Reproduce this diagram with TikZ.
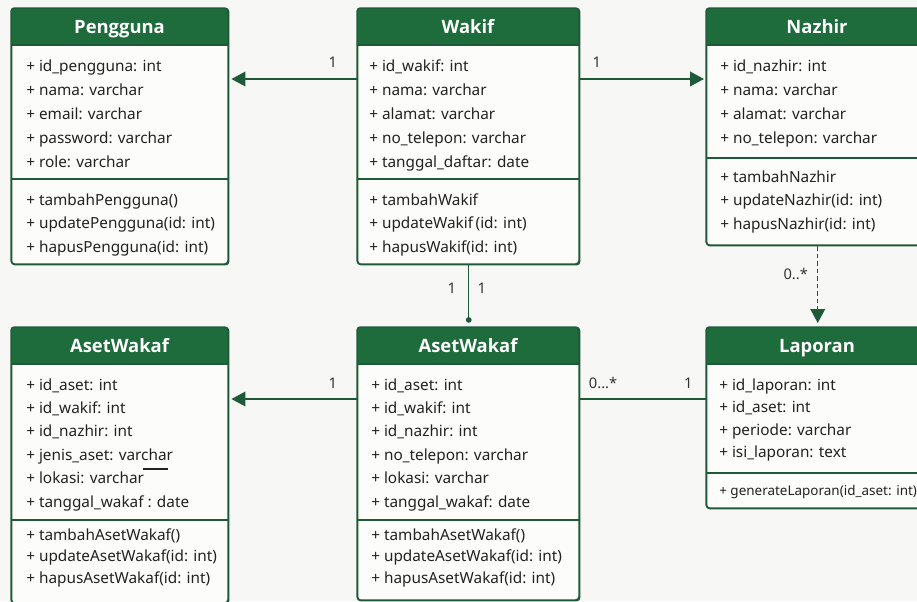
\documentclass[tikz,border=0pt]{standalone}
\usepackage{fontspec}
\setmainfont{Noto Sans}
\newfontfamily\titlefont{Open Sans}
\usetikzlibrary{arrows.meta}
\definecolor{hdr}{HTML}{1E6B3C}
\definecolor{edgec}{HTML}{1F5A38}
\definecolor{bgc}{HTML}{F7F7F5}
\definecolor{boxbg}{HTML}{FCFCFB}
\definecolor{txt}{HTML}{222222}
\definecolor{lbl}{HTML}{333333}
\tikzset{
  classbox/.style={draw=edgec, fill=boxbg, line width=1.1pt, rounded corners=2.5pt, inner sep=0pt, anchor=north west},
  titletext/.style={font=\titlefont\fontsize{13.8pt}{15pt}\selectfont\bfseries, text=white, inner sep=0pt, anchor=base},
  rowtext/.style={font=\fontsize{11.5pt}{13pt}\selectfont, text=txt, anchor=base west, inner sep=0pt},
  multlabel/.style={font=\fontsize{11pt}{12pt}\selectfont, text=lbl, inner sep=0pt},
  assoc/.style={draw=edgec, line width=1.1pt},
  arrowline/.style={assoc, -{Triangle[length=10.5pt,width=11pt]}, shorten >=1.5pt},
  dotline/.style={assoc, -{Circle[length=4.2pt]}, shorten >=3.2pt},
  depline/.style={assoc, dash pattern=on 3.2pt off 2.4pt, -{Triangle[length=10.5pt,width=11pt]}, shorten >=3pt},
}
% name, x, y, w, h, sepy, title
\newcommand\umlbox[7]{%
  \node[classbox, minimum width=#4*0.75pt, minimum height=#5*0.75pt] (#1) at (#2,#3) {};
  \fill[hdr] (#2,#3+37) {[rounded corners=2.5pt] -- (#2,#3) -- (#2+#4,#3)} -- (#2+#4,#3+37) -- cycle;
  \draw[edgec, line width=1.1pt] (#2,#3+37) -- (#2+#4,#3+37);
  \draw[edgec, line width=1.1pt] (#2,#6) -- (#2+#4,#6);
  \draw[edgec, line width=1.1pt, rounded corners=2.5pt] (#2,#3) rectangle (#2+#4,#3+#5);
  \node[titletext] at (#2+#4/2,#3+25) {#7};
}
% x, first baseline, step, list
\newcommand\umllines[4]{%
  \foreach \t [count=\i from 0] in {#4} {\node[rowtext] at (#1,#2+\i*#3) {\t};}
}
\begin{document}
\begin{tikzpicture}[x=0.75pt,y=-0.75pt]
\useasboundingbox (0,0) rectangle (917,601);
\clip (0,0) rectangle (917,601);
\fill[bgc] (0,0) rectangle (917,601);

% Pengguna
\umlbox{peng}{11}{8}{217}{256}{179}{Pengguna}
\umllines{26}{71}{24}{+ id\_pengguna: int, + nama: varchar, + email: varchar, + password: varchar, + role: varchar}
\umllines{26}{205}{23.5}{+ tambahPengguna(), + updatePengguna(id: int), + hapusPengguna(id: int)}

% Wakif
\umlbox{wakif}{357}{8}{222}{256}{179}{Wakif}
\umllines{369}{71}{24}{+ id\_wakif: int, + nama: varchar, + alamat: varchar, + no\_telepon: varchar, + tanggal\_daftar: date}
\umllines{369}{205}{23.5}{+ tambahWakif, + updateWakif\,(id: int), + hapusWakif(id: int)}

% Nazhir
\umlbox{nazhir}{706}{8}{222}{237}{158}{Nazhir}
\umllines{720}{71}{24}{+ id\_nazhir: int, + nama: varchar, + alamat: varchar, + no\_telepon: varchar}
\umllines{720}{182}{23.5}{+ tambahNazhir, + updateNazhir(id: int), + hapusNazhir(id: int)}

% AsetWakaf (left)
\umlbox{asetA}{11}{327}{217}{276}{520}{AsetWakaf}
\umllines{26}{390}{23.4}{+ id\_aset: int, + id\_wakif: int, + id\_nazhir: int, + jenis\_aset: varchar, + lokasi: varchar, + tanggal\_wakaf : date}
\umllines{26}{540}{21.5}{+ tambahAsetWakaf(), + updateAsetWakaf(id: int), + hapusAsetWakaf(id: int)}
\draw[txt, line width=0.8pt] (143,469) -- (168,469);

% AsetWakaf (middle)
\umlbox{asetB}{357}{327}{222}{273}{520}{AsetWakaf}
\umllines{371}{390}{23.4}{+ id\_aset: int, + id\_wakif: int, + id\_nazhir: int, + no\_telepon: varchar, + lokasi: varchar, + tanggal\_wakaf: date}
\umllines{371}{540}{21.5}{+ tambahAsetWakaf(), + updateAsetWakaf(id: int), + hapusAsetWakaf(id: int)}

% Laporan
\umlbox{lap}{706}{327}{222}{181}{473}{Laporan}
\umllines{719}{390}{22.5}{+ id\_laporan: int, + id\_aset: int, + periode: varchar, + isi\_laporan: text}
\node[rowtext, font=\fontsize{10.1pt}{11pt}\selectfont] at (719,495) {+ generateLaporan(id\_aset: int)};

% connectors
\draw[arrowline] ([yshift=-53.25pt]wakif.north west) -- ([yshift=-53.25pt]peng.north east)
  node[multlabel, pos=0.19, yshift=12.75pt] {1};
\draw[arrowline] ([yshift=-53.25pt]wakif.north east) -- ([yshift=-53.25pt]nazhir.north west)
  node[multlabel, pos=0.13, yshift=12.75pt] {1};
\draw[dotline] (wakif.south) -- (asetB.north)
  node[multlabel, pos=0.37, xshift=-12.75pt] {1}
  node[multlabel, pos=0.37, xshift=9.75pt] {1};
\draw[depline] (nazhir.south) -- (lap.north)
  node[multlabel, pos=0.34, xshift=-16.5pt] {0..*};
\draw[arrowline] ([yshift=-54pt]asetB.north west) -- ([yshift=-54pt]asetA.north east)
  node[multlabel, pos=0.19, yshift=12pt] {1};
\draw[assoc] ([yshift=-54pt]asetB.north east) -- ([yshift=-54pt]lap.north west)
  node[multlabel, pos=0.18, yshift=12pt] {0...*}
  node[multlabel, pos=0.86, yshift=12pt] {1};
\end{tikzpicture}
\end{document}
